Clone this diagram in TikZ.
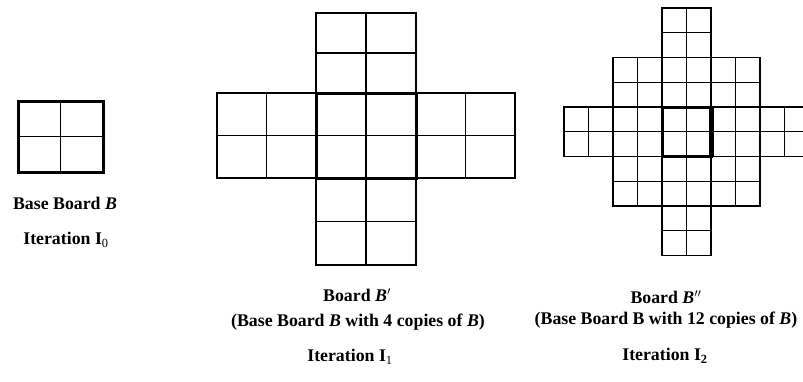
\documentclass[tikz,border=0pt]{standalone}
\usepackage{fontspec}
\setmainfont{Liberation Serif}
\usetikzlibrary{positioning}
\tikzset{
  every picture/.style={line width=1.2pt},
  grid/.style={draw=black, line width=1.2pt},
  frame/.style={draw=black, line width=3pt},
  caption/.style={font=\bfseries\fontsize{17.8}{21}\selectfont, align=center, inner sep=1pt},
  % one 2x2 copy of the base board, width #1 and height #2
  pics/quad/.style 2 args={code={
    \draw[grid] (0,0) rectangle (#1,#2);
    \draw[grid] (#1/2,0) -- (#1/2,#2);
    \draw[grid] (0,#2/2) -- (#1,#2/2);
  }},
}

\begin{document}
\begin{tikzpicture}[x=1pt, y=-1pt]
  \useasboundingbox (0,0) rectangle (803,381);
  % base board
  \pic at (18,101) {quad={85}{71}};
  \draw[frame] (18,101) rectangle (103,172);
  \node[caption] (base) at (65,203) {Base Board \textit{B}};
  \node[caption] (iter0) at (66,240) {Iteration I\textsubscript{\mdseries 0}};
  % board B'
  \foreach \x/\y/\w/\h in {316/13/100/80, 217/93/99/85, 316/93/100/85, 416/93/99/85, 316/178/100/87}
    \pic at (\x,\y) {quad={\w}{\h}};
  \draw[frame] (316,93) rectangle (416,178);
  \node[caption] (board1) at (357,295) {Board \textit{B}$^{\prime}$};
  \node[caption] (copies1) at (358,322) {(Base Board \textit{B} with 4 copies of \textit{B})};
  \node[caption] (iter1) at (350,357) {Iteration I\textsubscript{\mdseries 1}};
  % board B''
  \foreach \c/\r in {0/-2, -1/-1, 0/-1, 1/-1, -2/0, -1/0, 0/0, 1/0, 2/0, -1/1, 0/1, 1/1, 0/2}
    \pic at (662+49*\c, 107+49.5*\r) {quad={49}{49.5}};
  \draw[frame] (662,107) rectangle (711,156.5);
  \draw[line width=5pt] (711,107) -- (711,156.5);
  \node[caption] (board2) at (666,297) {Board \textit{B}$^{\prime\prime}$};
  \node[caption] (copies2) at (666,320) {(Base Board B with 12 copies of \textit{B})};
  \node[caption] (iter2) at (665,356) {Iteration I\textsubscript{2}};
\end{tikzpicture}
\end{document}
